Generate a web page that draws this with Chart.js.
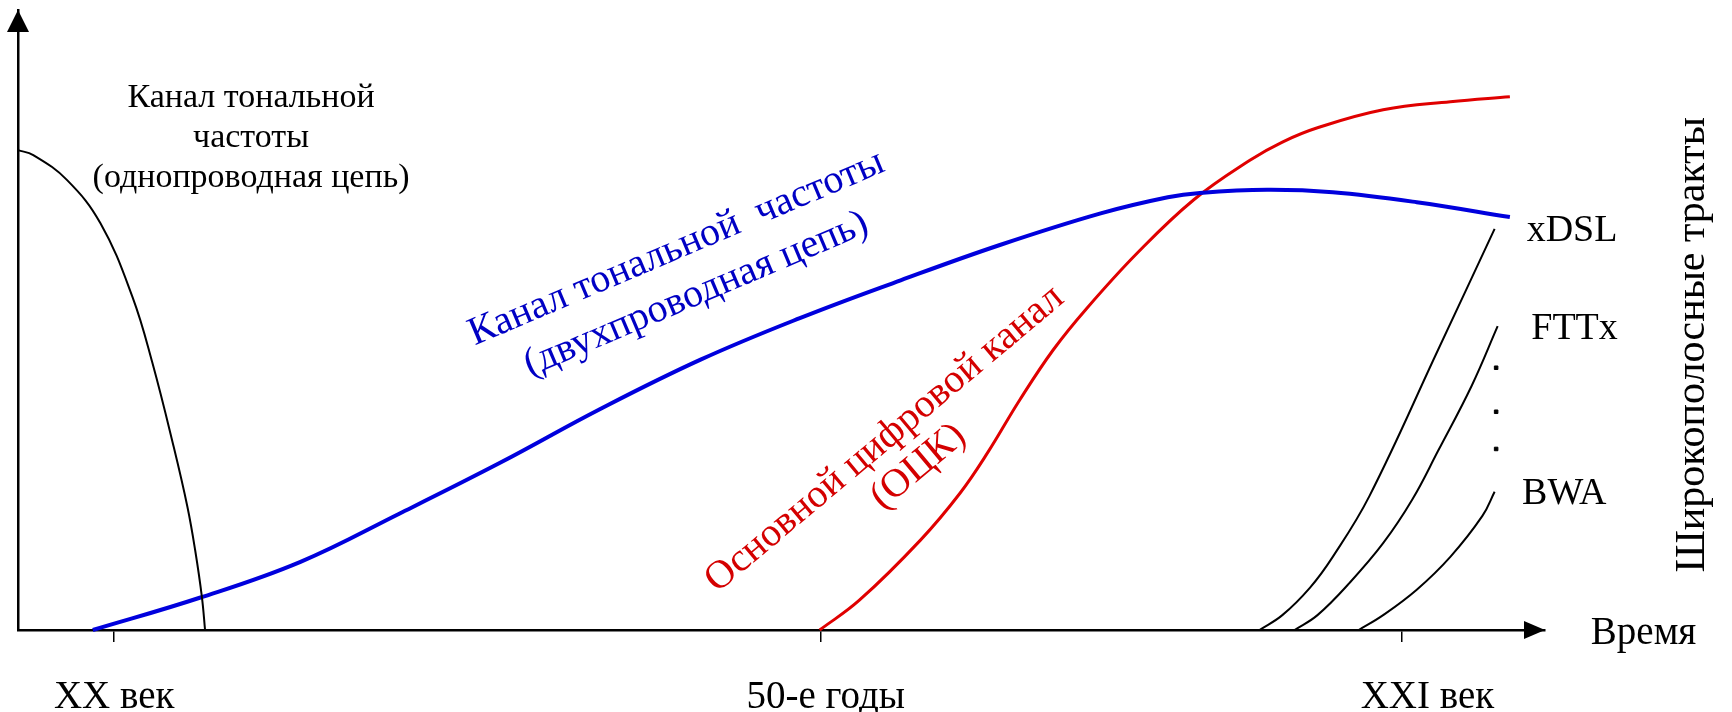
<!DOCTYPE html>
<html>
<head>
<meta charset="utf-8">
<script src="https://cdn.jsdelivr.net/npm/chart.js@4.4.1/dist/chart.umd.min.js"></script>
<style>
  html, body { margin: 0; padding: 0; background: #fff; }
  #wrap { width: 1732px; height: 712px; position: relative; }
</style>
</head>
<body>
<div id="wrap"><canvas id="chart"></canvas></div>
<script>
// axis ranges (arbitrary units: time along x, level along y)
const xMin = 0, xMax = 100;
const yMin = 0, yMax = 100;

// single-wire voice channel
const singleWireX = [0, 1, 3.2, 5.4, 7.5, 8.8, 10.2, 11.1, 11.6, 12.05, 12.25];
const singleWireY = [77.4, 76.6, 72.6, 65.6, 53.7, 43.1, 29.5, 19.8, 12.9, 5.2, 0];

// two-wire voice channel
const twoWireX = [4.9, 11.9, 18.5, 25.0, 31.6, 38.1, 44.7, 51.2, 57.8, 64.3, 70.9, 75.3, 77.4, 81.8, 86.1, 91.6, 97.7];
const twoWireY = [0, 5.2, 11.0, 18.8, 27.0, 35.6, 43.6, 50.3, 56.4, 62.1, 67.2, 69.8, 70.5, 71.0, 70.6, 69.0, 66.6];

// basic digital channel
const digitalX = [52.5, 55.1, 59.1, 61.7, 63.5, 65.6, 67.8, 70.0, 73.3, 77.0, 80.7, 82.8, 85.1, 89.4, 93.8, 97.7];
const digitalY = [0, 4.8, 14.5, 22.1, 28.6, 37.1, 45.2, 51.9, 60.8, 69.4, 75.8, 78.7, 81.0, 83.9, 85.2, 86.0];

// broadband paths
const xdslX = [81.3, 82.8, 84.6, 86.1, 88.5, 93.0, 96.7];
const xdslY = [0, 2.4, 6.8, 11.8, 21.6, 45.2, 64.7];
const fttxX = [83.6, 85.1, 87.2, 89.4, 91.3, 93.0, 95.2, 96.9];
const fttxY = [0, 2.4, 7.6, 14.0, 21.0, 28.9, 39.4, 49.0];
const bwaX = [87.8, 89.4, 91.6, 93.8, 95.9, 96.7];
const bwaY = [0, 2.4, 6.5, 11.8, 18.4, 22.3];
const dotsX = [96.8, 96.8, 96.8];
const dotsY = [42.3, 35.2, 29.2];

// time axis ticks
const tickPositions = [6.3, 52.6, 90.6];
const tickLabels = ["XX век", "50-е годы", "XXI век"];
const tickLabelPositions = [6.3, 52.9, 92.3];

const FONT = '"Liberation Serif", "Times New Roman", serif';

function pts(xs, ys) {
    return xs.map((x, i) => ({ x, y: ys[i] }));
}

// text notes placed in axis units
const notes = [
    { lines: ["Канал тональной", "частоты", "(однопроводная цепь)"], x: 15.26, y: 84.3, angle: 0, size: 34, gap: 40, color: "#000" },
    { lines: ["Канал тональной  частоты", "(двухпроводная цепь)"], x: 43.4, y: 60.0, angle: -23, size: 40, gap: 50, color: "#0000c4" },
    { lines: ["Основной цифровой канал", "(ОЦК)"], shift: [0, 8], x: 57.2, y: 29.5, angle: -40, size: 40, gap: 43, color: "#d40000" },
    { lines: ["xDSL"], x: 98.8, y: 62.7, angle: 0, size: 38, gap: 0, color: "#000", align: "left" },
    { lines: ["FTTx"], x: 99.1, y: 46.9, angle: 0, size: 38, gap: 0, color: "#000", align: "left" },
    { lines: ["BWA"], x: 98.5, y: 20.3, angle: 0, size: 38, gap: 0, color: "#000", align: "left" },
    { lines: ["Время"], x: 103.0, y: -2.3, angle: 0, size: 39, gap: 0, color: "#000", align: "left" },
    { lines: ["Широкополосные тракты"], x: 109.7, y: 46.0, angle: -90, size: 42, gap: 0, color: "#000", baseline: "middle" }
];

const decorations = {
    id: "decorations",
    afterDraw(chart) {
        const { ctx, chartArea: a, scales: { x, y } } = chart;
        ctx.save();
        ctx.fillStyle = "#000";
        // arrow heads
        ctx.beginPath();
        ctx.moveTo(a.right, a.bottom);
        ctx.lineTo(a.right - 21, a.bottom - 9);
        ctx.lineTo(a.right - 21, a.bottom + 9);
        ctx.closePath();
        ctx.fill();
        ctx.beginPath();
        ctx.moveTo(a.left, a.top);
        ctx.lineTo(a.left - 11, a.top + 22);
        ctx.lineTo(a.left + 11, a.top + 22);
        ctx.closePath();
        ctx.fill();

        // tick labels
        ctx.font = `39px ${FONT}`;
        ctx.textAlign = "center";
        ctx.textBaseline = "alphabetic";
        tickLabels.forEach((t, i) => {
            ctx.fillText(t, x.getPixelForValue(tickLabelPositions[i]), 708);
        });

        notes.forEach(n => {
            ctx.save();
            ctx.translate(x.getPixelForValue(n.x), y.getPixelForValue(n.y));
            ctx.rotate(n.angle * Math.PI / 180);
            ctx.font = `${n.size}px ${FONT}`;
            ctx.fillStyle = n.color;
            ctx.textAlign = n.align || "center";
            ctx.textBaseline = n.baseline || "alphabetic";
            n.lines.forEach((l, i) => ctx.fillText(l, n.shift ? n.shift[i] : 0, i * n.gap));
            ctx.restore();
        });
        ctx.restore();
    }
};

const lineDefaults = { pointRadius: 0, fill: false, tension: 0.4, clip: false };

new Chart(document.getElementById("chart"), {
    type: "line",
    data: {
        datasets: [
            { ...lineDefaults, data: pts(singleWireX, singleWireY), borderColor: "#000", borderWidth: 2 },
            { ...lineDefaults, data: pts(twoWireX, twoWireY), borderColor: "#0000dd", borderWidth: 4 },
            { ...lineDefaults, data: pts(digitalX, digitalY), borderColor: "#e00000", borderWidth: 3 },
            { ...lineDefaults, data: pts(xdslX, xdslY), borderColor: "#000", borderWidth: 2 },
            { ...lineDefaults, data: pts(fttxX, fttxY), borderColor: "#000", borderWidth: 2 },
            { ...lineDefaults, data: pts(bwaX, bwaY), borderColor: "#000", borderWidth: 2 },
            { type: "scatter", data: pts(dotsX, dotsY), pointStyle: "rect", pointRadius: 2.5,
              backgroundColor: "#000", borderColor: "#000", showLine: false, clip: false }
        ]
    },
    options: {
        responsive: true,
        maintainAspectRatio: false,
        animation: false,
        events: [],
        layout: { padding: { left: 18, right: 187, top: 10, bottom: 82 } },
        plugins: { legend: { display: false }, tooltip: { enabled: false } },
        scales: {
            x: {
                type: "linear", min: xMin, max: xMax,
                afterBuildTicks(scale) { scale.ticks = tickPositions.map(v => ({ value: v })); },
                afterFit(scale) { scale.height = 0; },
                ticks: { display: false },
                grid: { display: true, drawOnChartArea: false, drawTicks: true, tickLength: 12, color: "#000", lineWidth: 1.5 },
                border: { display: true, color: "#000", width: 2.5 }
            },
            y: {
                type: "linear", min: yMin, max: yMax,
                afterFit(scale) { scale.width = 0; },
                ticks: { display: false },
                grid: { display: false, drawTicks: false },
                border: { display: true, color: "#000", width: 2.5 }
            }
        }
    },
    plugins: [decorations]
});
</script>
</body>
</html>
